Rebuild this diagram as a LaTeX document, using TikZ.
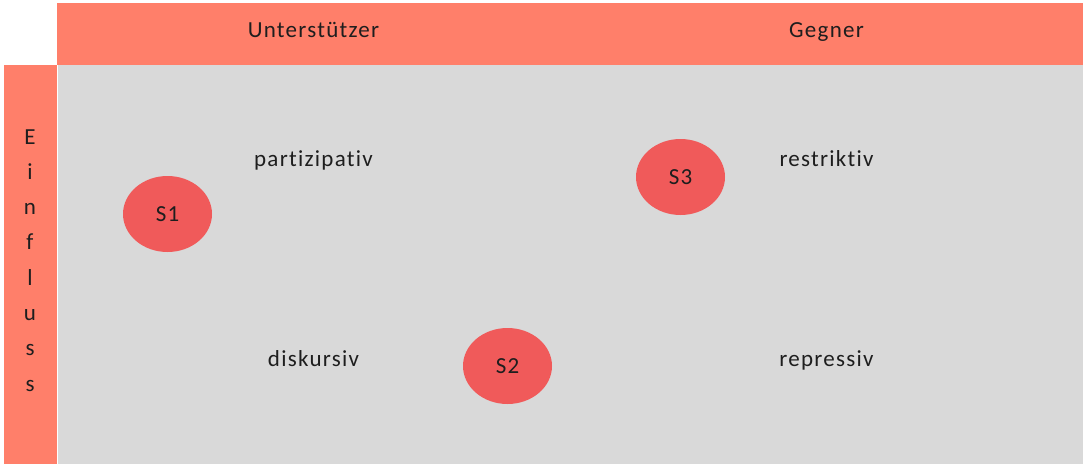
\documentclass[tikz,border=0pt]{standalone}
\usepackage{fontspec}
\setmainfont{Carlito}[Ligatures=CommonOff,LetterSpace=5.5]
\usetikzlibrary{shapes.geometric,positioning}
\definecolor{kopf}{HTML}{FF7F6A}
\definecolor{feld}{HTML}{D9D9D9}
\definecolor{punkt}{HTML}{F05A5A}
\definecolor{schrift}{HTML}{1E1E1E}

\begin{document}
\begin{tikzpicture}[x=1pt,y=-1pt,
  bar/.style={fill=kopf,inner sep=0pt,anchor=north west},
  wort/.style={anchor=base,inner sep=0pt,text=schrift,font=\fontsize{23}{28}\selectfont},
  stake/.style={ellipse,fill=punkt,minimum width=89pt,minimum height=76pt,inner sep=0pt,
    text=schrift,font=\fontsize{23}{28}\selectfont}]
  \path[fill=white,use as bounding box] (0,0) rectangle (1088,469);

  % Kopfzeile, Seitenleiste, Feld
  \node[bar,minimum width=1026pt,minimum height=62pt] (Kopf)  at (57,3)    {};
  \node[bar,minimum width=52.7pt,minimum height=399pt] (Seite) at (4,65)   {};
  \node[bar,fill=feld,minimum width=1025.3pt,minimum height=399pt] (Feld) at (57.7,65) {};

  \node[wort] (Unt)  at (313.5,37.7) {Unterstützer};
  \node[wort] (Geg)  at (826.5,37.7) {Gegner};

  \foreach \ch [count=\i] in {E,i,n,f,l,u,s,s}
    \node[wort] (Ein\i) at (30,108.7+35.3*\i) {\ch};

  \node[wort] (Part) at (313.5,166.7) {partizipativ};
  \node[wort] (Rest) at (826.5,166.7) {restriktiv};
  \node[wort] (Disk) at (313.5,366)   {diskursiv};
  \node[wort] (Repr) at (826.5,366)   {repressiv};

  % Stakeholder
  \node[stake] (S1) at (167.5,214) {S1};
  \node[stake] (S2) at (507.5,366) {S2};
  \node[stake] (S3) at (680.5,177) {S3};
\end{tikzpicture}
\end{document}
